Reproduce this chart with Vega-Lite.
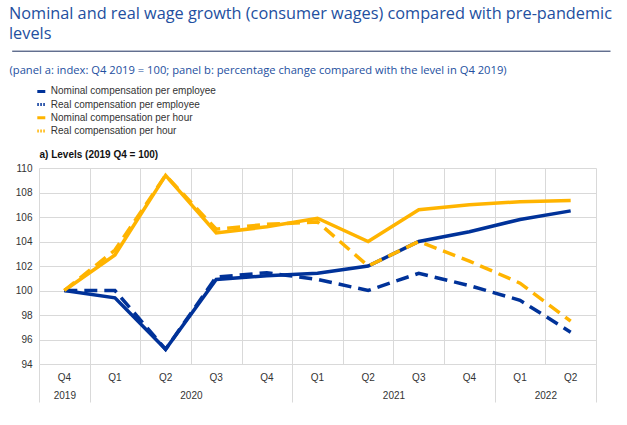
{
  "$schema": "https://vega.github.io/schema/vega-lite/v6.json",
  "width": 557,
  "height": 196,
  "padding": {"left": 9, "top": 6, "right": 5, "bottom": 5},
  "title": {
    "text": ["Nominal and real wage growth (consumer wages) compared with pre-pandemic", "levels"],
    "anchor": "start",
    "frame": "bounds",
    "font": "Open Sans",
    "fontSize": 16.3,
    "fontWeight": "normal",
    "color": "#234fa0",
    "lineHeight": 20,
    "offset": 8
  },
  "config": {
    "view": {"stroke": null},
    "axis": {"labelFont": "Liberation Sans", "labelColor": "#333333", "labelFontSize": 10}
  },
  "datasets": {
    "wages": [
      {"series": "Nominal compensation per employee", "q": "2019 Q4", "value": 100},
      {"series": "Nominal compensation per employee", "q": "2020 Q1", "value": 99.4},
      {"series": "Nominal compensation per employee", "q": "2020 Q2", "value": 95.2},
      {"series": "Nominal compensation per employee", "q": "2020 Q3", "value": 100.9},
      {"series": "Nominal compensation per employee", "q": "2020 Q4", "value": 101.2},
      {"series": "Nominal compensation per employee", "q": "2021 Q1", "value": 101.4},
      {"series": "Nominal compensation per employee", "q": "2021 Q2", "value": 102.0},
      {"series": "Nominal compensation per employee", "q": "2021 Q3", "value": 104.0},
      {"series": "Nominal compensation per employee", "q": "2021 Q4", "value": 104.8},
      {"series": "Nominal compensation per employee", "q": "2022 Q1", "value": 105.8},
      {"series": "Nominal compensation per employee", "q": "2022 Q2", "value": 106.5},
      {"series": "Real compensation per employee", "q": "2019 Q4", "value": 100},
      {"series": "Real compensation per employee", "q": "2020 Q1", "value": 100.0},
      {"series": "Real compensation per employee", "q": "2020 Q2", "value": 95.2},
      {"series": "Real compensation per employee", "q": "2020 Q3", "value": 101.1},
      {"series": "Real compensation per employee", "q": "2020 Q4", "value": 101.45},
      {"series": "Real compensation per employee", "q": "2021 Q1", "value": 100.9},
      {"series": "Real compensation per employee", "q": "2021 Q2", "value": 100.0},
      {"series": "Real compensation per employee", "q": "2021 Q3", "value": 101.4},
      {"series": "Real compensation per employee", "q": "2021 Q4", "value": 100.4},
      {"series": "Real compensation per employee", "q": "2022 Q1", "value": 99.2},
      {"series": "Real compensation per employee", "q": "2022 Q2", "value": 96.6},
      {"series": "Nominal compensation per hour", "q": "2019 Q4", "value": 100},
      {"series": "Nominal compensation per hour", "q": "2020 Q1", "value": 102.9},
      {"series": "Nominal compensation per hour", "q": "2020 Q2", "value": 109.4},
      {"series": "Nominal compensation per hour", "q": "2020 Q3", "value": 104.7},
      {"series": "Nominal compensation per hour", "q": "2020 Q4", "value": 105.2},
      {"series": "Nominal compensation per hour", "q": "2021 Q1", "value": 105.9},
      {"series": "Nominal compensation per hour", "q": "2021 Q2", "value": 104.0},
      {"series": "Nominal compensation per hour", "q": "2021 Q3", "value": 106.6},
      {"series": "Nominal compensation per hour", "q": "2021 Q4", "value": 107.0},
      {"series": "Nominal compensation per hour", "q": "2022 Q1", "value": 107.25},
      {"series": "Nominal compensation per hour", "q": "2022 Q2", "value": 107.35},
      {"series": "Real compensation per hour", "q": "2019 Q4", "value": 100},
      {"series": "Real compensation per hour", "q": "2020 Q1", "value": 103.3},
      {"series": "Real compensation per hour", "q": "2020 Q2", "value": 109.4},
      {"series": "Real compensation per hour", "q": "2020 Q3", "value": 105.0},
      {"series": "Real compensation per hour", "q": "2020 Q4", "value": 105.4},
      {"series": "Real compensation per hour", "q": "2021 Q1", "value": 105.6},
      {"series": "Real compensation per hour", "q": "2021 Q2", "value": 102.0},
      {"series": "Real compensation per hour", "q": "2021 Q3", "value": 104.0},
      {"series": "Real compensation per hour", "q": "2021 Q4", "value": 102.4},
      {"series": "Real compensation per hour", "q": "2022 Q1", "value": 100.6},
      {"series": "Real compensation per hour", "q": "2022 Q2", "value": 97.5}
    ],
    "years": [
      {"year": "2019", "center": 0.5},
      {"year": "2020", "center": 3},
      {"year": "2021", "center": 7},
      {"year": "2022", "center": 10}
    ]
  },
  "layer": [
    {
      "data": {"name": "years"},
      "mark": {"type": "point", "opacity": 0},
      "encoding": {
        "x": {
          "field": "center",
          "type": "quantitative",
          "scale": {"domain": [0, 11], "nice": false, "zero": false},
          "axis": {
            "orient": "bottom",
            "values": [0, 0.5, 1, 2, 3, 4, 5, 6, 7, 8, 9, 10, 11],
            "labelExpr": "datum.value == 0.5 ? '2019' : datum.value == 3 ? '2020' : datum.value == 7 ? '2021' : datum.value == 10 ? '2022' : ''",
            "labelOverlap": false,
            "labelFlush": false,
            "grid": true,
            "gridColor": "#d9d9d9",
            "gridOpacity": {"condition": {"test": "datum.value == 0.5", "value": 0}, "value": 1},
            "tickSize": 38,
            "tickColor": "#d9d9d9",
            "tickOpacity": {"condition": {"test": "datum.value == 0 || datum.value == 1 || datum.value == 5 || datum.value == 9 || datum.value == 11", "value": 1}, "value": 0},
            "labelPadding": -12,
            "domain": false,
            "title": null
          }
        }
      }
    },
    {
      "data": {"name": "years"},
      "mark": {"type": "point", "opacity": 0},
      "encoding": {
        "x": {
          "field": "center",
          "type": "quantitative",
          "scale": {"domain": [0, 11], "nice": false, "zero": false, "range": [-27.3, 571]},
          "axis": {
            "orient": "top",
            "offset": 117.3,
            "domain": true,
            "domainColor": "#1c2f5e",
            "domainWidth": 1,
            "ticks": false,
            "labels": false,
            "grid": false,
            "title": "(panel a: index: Q4 2019 = 100; panel b: percentage change compared with the level in Q4 2019)",
            "titleFont": "Open Sans",
            "titleFontSize": 11.2,
            "titleFontWeight": "normal",
            "titleColor": "#234fa0",
            "titleX": -30,
            "titleY": 20,
            "titleAlign": "left",
            "titleAngle": 0,
            "titleBaseline": "middle"
          }
        }
      }
    },
    {
      "data": {"name": "wages"},
      "transform": [{"filter": "indexof(datum.series, 'Nominal') === 0"}],
      "mark": {"type": "line", "strokeWidth": 3.5},
      "encoding": {
        "x": {
          "field": "q",
          "type": "ordinal",
          "sort": null,
          "scale": {"type": "band", "paddingInner": 0, "paddingOuter": 0},
          "axis": {
            "orient": "bottom",
            "grid": false,
            "ticks": false,
            "domain": false,
            "labelAngle": 0,
            "labelPadding": 8,
            "labelExpr": "slice(datum.value, 5)",
            "title": null
          }
        },
        "y": {
          "field": "value",
          "type": "quantitative",
          "scale": {"domain": [94, 110], "nice": false, "zero": false},
          "axis": {
            "values": [94, 96, 98, 100, 102, 104, 106, 108, 110],
            "labelOverlap": false,
            "grid": true,
            "gridColor": "#d9d9d9",
            "ticks": false,
            "domain": false,
            "labelPadding": 7,
            "title": "a) Levels (2019 Q4 = 100)",
            "titleAngle": 0,
            "titleX": 0,
            "titleY": -14,
            "titleAlign": "left",
            "titleBaseline": "middle",
            "titleFont": "Liberation Sans",
            "titleFontSize": 10,
            "titleFontWeight": "bold",
            "titleColor": "#111111"
          }
        },
        "color": {
          "field": "series",
          "type": "nominal",
          "scale": {
            "domain": ["Nominal compensation per employee", "Real compensation per employee", "Nominal compensation per hour", "Real compensation per hour"],
            "range": ["#003299", "#003299", "#ffb400", "#ffb400"]
          },
          "legend": {
            "orient": "none",
            "legendX": -3.2,
            "legendY": -82.6,
            "title": null,
            "symbolType": "stroke",
            "symbolSize": 64,
            "symbolStrokeWidth": 3,
            "labelFont": "Liberation Sans",
            "labelFontSize": 10,
            "labelColor": "#333333",
            "labelOffset": 4,
            "labelLimit": 400,
            "clipHeight": 12,
            "rowPadding": 1.2,
            "encode": {"symbols": {"update": {"strokeDash": {"signal": "indexof(datum.label, 'Real') === 0 ? [1.5, 1.5] : null"}}}}
          }
        }
      }
    },
    {
      "data": {"name": "wages"},
      "transform": [{"filter": "indexof(datum.series, 'Real') === 0"}],
      "mark": {"type": "line", "strokeWidth": 3.5, "strokeDash": [13, 7]},
      "encoding": {
        "x": {
          "field": "q",
          "type": "ordinal",
          "sort": null,
          "scale": {"type": "band", "paddingInner": 0, "paddingOuter": 0},
          "axis": null
        },
        "y": {
          "field": "value",
          "type": "quantitative",
          "scale": {"domain": [94, 110], "nice": false, "zero": false},
          "axis": {
            "values": [94, 96, 98, 100, 102, 104, 106, 108, 110],
            "labelOverlap": false,
            "grid": true,
            "gridColor": "#d9d9d9",
            "ticks": false,
            "domain": false,
            "labelPadding": 7,
            "title": "a) Levels (2019 Q4 = 100)",
            "titleAngle": 0,
            "titleX": 0,
            "titleY": -14,
            "titleAlign": "left",
            "titleBaseline": "middle",
            "titleFont": "Liberation Sans",
            "titleFontSize": 10,
            "titleFontWeight": "bold",
            "titleColor": "#111111"
          }
        },
        "color": {"field": "series", "type": "nominal"}
      }
    }
  ],
  "resolve": {"scale": {"x": "independent"}, "axis": {"x": "independent"}}
}
